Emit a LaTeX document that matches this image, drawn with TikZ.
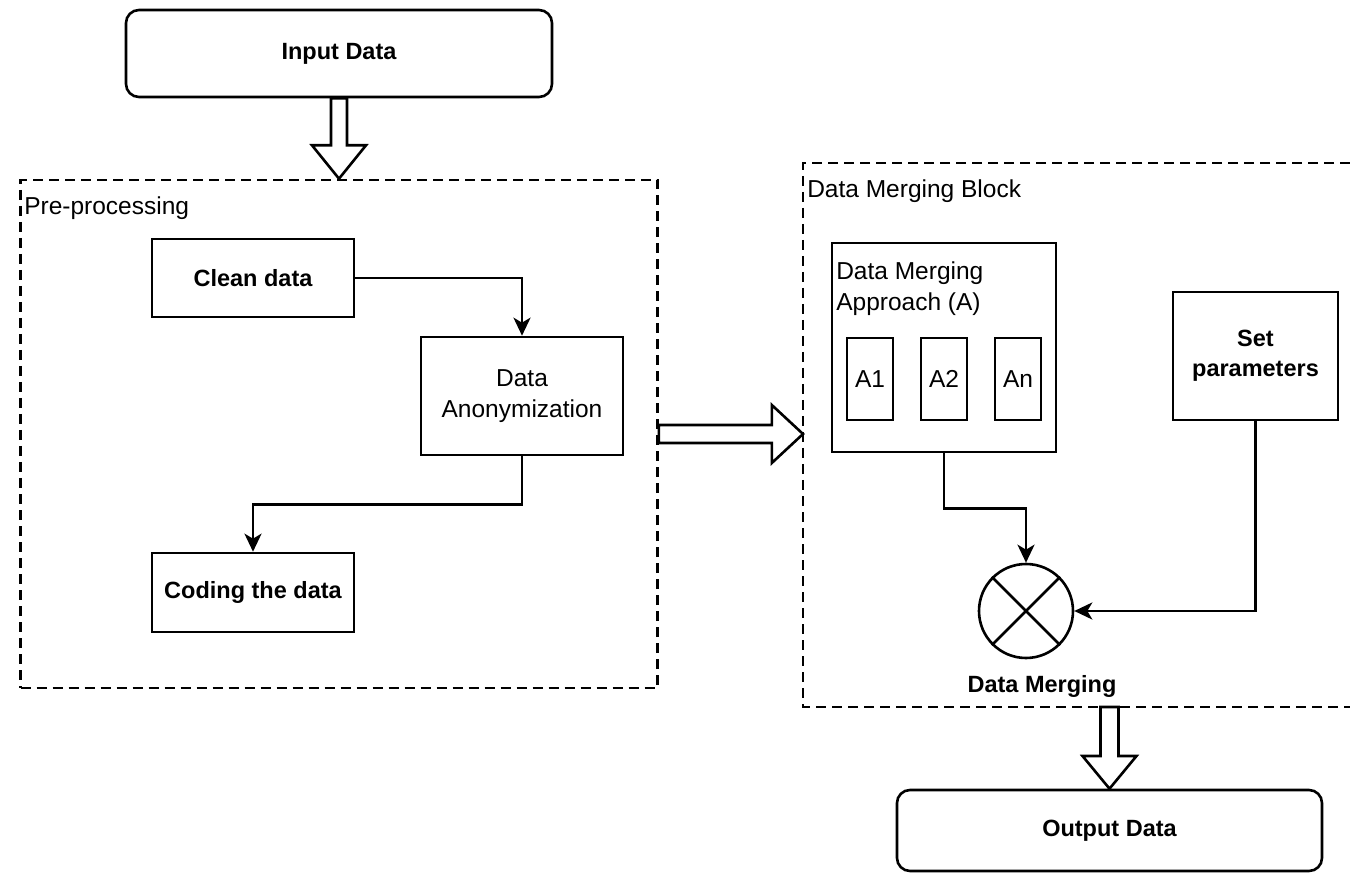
\documentclass[tikz,border=0pt]{standalone}
\usepackage{fontspec}
\setmainfont{Liberation Sans}
\usetikzlibrary{arrows.meta,calc}
\begin{document}
\begin{tikzpicture}[x=1pt,y=-1pt, line width=2.6pt,
  box/.style={draw, rectangle, inner sep=0pt, align=center},
  rbox/.style={box, rounded corners=13pt},
  grp/.style={draw, dash pattern=on 10pt off 6pt, inner sep=0pt},
  bl/.style={font=\fontsize{23.5}{30}\selectfont\bfseries},
  rg/.style={font=\fontsize{24.5}{31}\selectfont},
  conn/.style={-{Stealth[length=18pt,width=17pt,inset=5pt]}, line width=2.6pt},
  barrow/.style={draw, fill=white, line width=2.6pt, line join=miter}]
\useasboundingbox (0,0) rectangle (1350,874);

% left part
\node[rbox, bl, minimum width=426pt, minimum height=87pt] (in) at (339,53.5) {Input Data};
\node[grp, minimum width=637pt, minimum height=508pt] (pre) at (339,434) {};
\node[rg, anchor=base west, inner sep=0pt] (prelbl) at (23,215) {Pre-processing};
\node[box, bl, minimum width=202pt, minimum height=78pt] (clean) at (253,278) {Clean data};
\node[box, rg, minimum width=202pt, minimum height=118pt] (anon) at (522,396) {Data\\Anonymization};
\node[box, bl, minimum width=202pt, minimum height=79pt] (coding) at (253,592.5) {Coding the data};

% merging block (cut by the right edge)
\coordinate (mtr) at (1350,163);
\coordinate (mtl) at (803,163);
\coordinate (mbl) at (803,707);
\coordinate (mbr) at (1350,707);
\coordinate (mwest) at (803,434);
\coordinate (mout) at (1109.5,707);
\draw[dash pattern=on 10pt off 6pt] (mtr) -- (mtl) -- (mbl) -- (mbr);
\node[rg, anchor=base west, inner sep=0pt] (mlbl0) at (806,198) {Data Merging Block};

\node[box, minimum width=224pt, minimum height=209pt] (appr) at (944,347.5) {};
\node[rg, anchor=north west, align=left, inner sep=0pt] (apprlbl) at (835,260) {Data Merging\\Approach (A)};
\node[box, rg, minimum width=46pt, minimum height=82pt] (a1) at (870,379) {A1};
\node[box, rg, minimum width=46pt, minimum height=82pt] (a2) at (944,379) {A2};
\node[box, rg, minimum width=46pt, minimum height=82pt] (an) at (1018,379) {An};
\node[box, bl, minimum width=165pt, minimum height=128pt] (setp) at (1255.5,356) {Set\\parameters};
\node[draw, circle, minimum size=94pt, inner sep=0pt] (circ) at (1026,611) {};
\draw (circ.north west) -- (circ.south east);
\draw (circ.north east) -- (circ.south west);
\node[bl, anchor=base, inner sep=0pt] (mlbl) at (1042,692) {Data Merging};
\node[rbox, bl, minimum width=425pt, minimum height=81pt] (out) at (1109.5,830.5) {Output Data};

% connectors
\draw[conn] (clean.east) -| (anon.north);
\draw[conn] (anon.south) -- ++(0,48) -| (coding.north);
\draw[conn] (appr.south) -- ++(0,55) -| (circ.north);
\draw[conn] (setp.south) |- (circ.east);

% block arrows
\draw[barrow] ($(in.south)+(-8,0)$) -- ($(in.south)+(8,0)$) -- ($(in.south)+(8,47)$)
  -- ($(in.south)+(27,47)$) -- (pre.north) -- ($(in.south)+(-27,47)$)
  -- ($(in.south)+(-8,47)$) -- cycle;
\draw[barrow] ($(pre.east)+(0,-9)$) -- ($(pre.east)+(113,-9)$) -- ($(pre.east)+(113,-29)$)
  -- (mwest) -- ($(pre.east)+(113,29)$) -- ($(pre.east)+(113,9)$)
  -- ($(pre.east)+(0,9)$) -- cycle;
\draw[barrow] ($(mout)+(-9,0)$) -- ($(mout)+(9,0)$) -- ($(mout)+(9,49)$)
  -- ($(mout)+(27,49)$) -- (out.north) -- ($(mout)+(-27,49)$)
  -- ($(mout)+(-9,49)$) -- cycle;
\end{tikzpicture}
\end{document}
